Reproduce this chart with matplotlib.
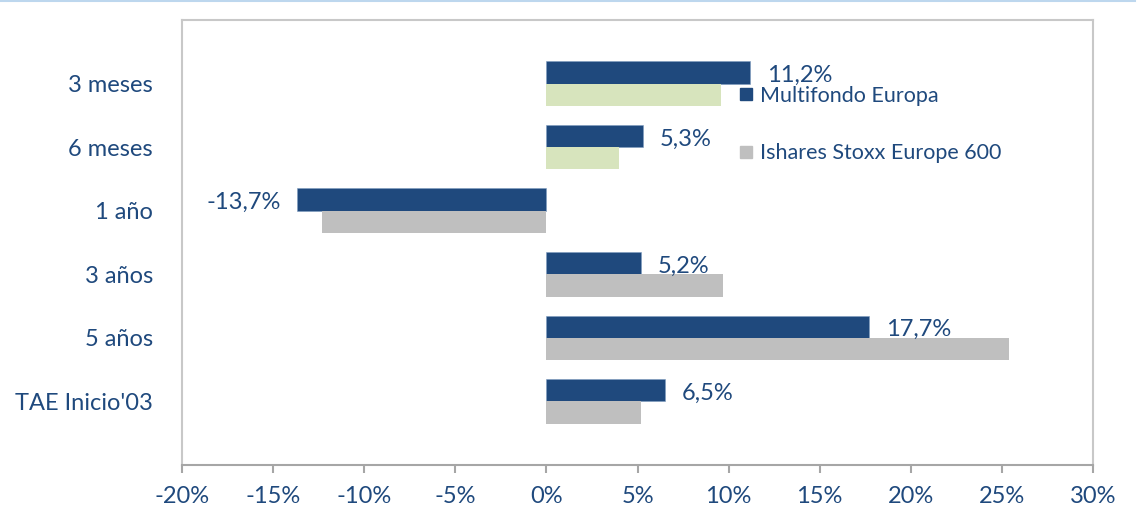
import matplotlib
matplotlib.use("Agg")
import matplotlib.pyplot as plt
from matplotlib.lines import Line2D
import numpy as np

plt.rcParams['font.family'] = ['Lato', 'DejaVu Sans']

# data
categories = ["3 meses", "6 meses", "1 año", "3 años", "5 años", "TAE Inicio'03"]
fondo = [11.2, 5.3, -13.7, 5.2, 17.7, 6.5]
indice = [9.6, 4.0, -12.3, 9.7, 25.4, 5.2]
fondo_labels = ["11,2%", "5,3%", "-13,7%", "5,2%", "17,7%", "6,5%"]
xticks = [-20, -15, -10, -5, 0, 5, 10, 15, 20, 25, 30]

navy = "#1F497D"
green = "#D7E4BD"
grey = "#BFBFBF"
text_col = "#1F497D"
axis_col = "#A6A6A6"

# first two benchmark bars are shown in green, the rest in grey
indice_colors = [green, green, grey, grey, grey, grey]

fig = plt.figure(figsize=(11.41, 5.13), dpi=100)
ax = fig.add_axes([182 / 1141, 48 / 513, 911 / 1141, 445 / 513])

y = np.arange(len(categories))
h = 0.35
ax.barh(y - h / 2, fondo, height=h, color=navy, edgecolor="#7F9CC0", linewidth=0.4)
ax.barh(y + h / 2, indice, height=h, color=indice_colors)

for yi, v, lab in zip(y, fondo, fondo_labels):
    if v >= 0:
        ax.annotate(lab, (v, yi - h / 2), xytext=(17, -3), textcoords="offset pixels",
                    ha="left", va="center", fontsize=17, color=text_col)
    else:
        ax.annotate(lab, (v, yi - h / 2), xytext=(-16, -3), textcoords="offset pixels",
                    ha="right", va="center", fontsize=17, color=text_col)

ax.set_xlim(-20, 30)
ax.set_ylim(len(categories), -1)
ax.set_xticks(xticks)
ax.set_xticklabels([f"{t}%" for t in xticks])
ax.set_yticks(y)
ax.set_yticklabels(categories)

ax.tick_params(axis="x", colors=axis_col, labelcolor=text_col, labelsize=17,
               length=6, width=1.5, direction="out", pad=9)
ax.tick_params(axis="y", length=0, labelcolor=text_col, labelsize=17, pad=21)

for side in ["left", "right", "top"]:
    ax.spines[side].set_color("#C8C8C8")
    ax.spines[side].set_linewidth(1.5)
ax.spines["bottom"].set_color(axis_col)
ax.spines["bottom"].set_linewidth(1.5)

handles = [Line2D([], [], marker="s", linestyle="none", markersize=8, color=navy),
           Line2D([], [], marker="s", linestyle="none", markersize=8, color=grey)]
ax.legend(handles, ["Multifondo Europa", "Ishares Stoxx Europe 600"],
          loc="upper left", bbox_to_anchor=(0.603, 0.872), frameon=False,
          fontsize=15.5, labelcolor=text_col, handlelength=0.6, handletextpad=0.35,
          labelspacing=1.75, borderaxespad=0)

# thin light-blue rule at the very top of the image
fig.add_artist(Line2D([0, 0.995], [0.998, 0.998], transform=fig.transFigure,
                      color="#BDD7EE", linewidth=1.5))

fig.savefig("out.png", dpi=100)
